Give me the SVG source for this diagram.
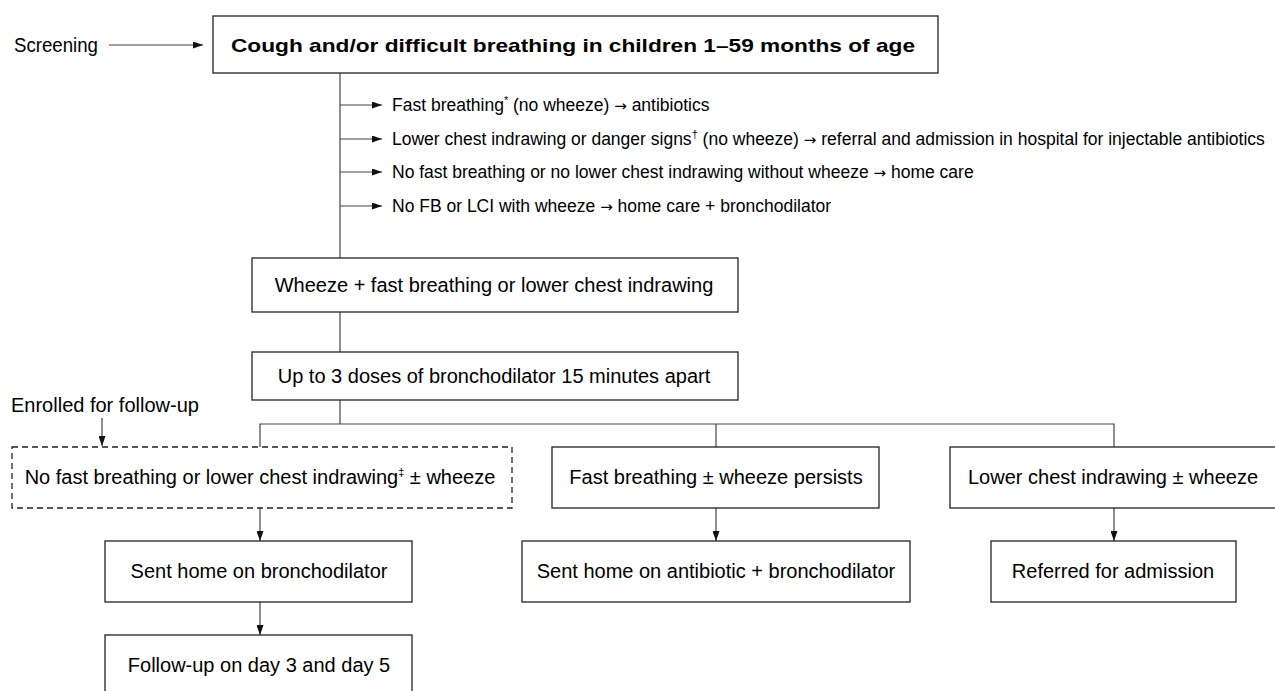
<svg xmlns="http://www.w3.org/2000/svg" width="1275" height="691" viewBox="0 0 1275 691">
<style>
  text { font-family: "Liberation Sans", "DejaVu Sans", sans-serif; fill: #000; }
  .box { fill: #fff; stroke: #222; stroke-width: 1.3; }
  .dash { fill: #fff; stroke: #222; stroke-width: 1.3; stroke-dasharray: 6 4; }
  .t { font-size: 20px; text-anchor: middle; }
  .l { font-size: 20px; }
  .b { font-size: 17.5px; }
  .ar { font-family: "DejaVu Sans", sans-serif; font-size: 15px; }
  .title { font-size: 19px; font-weight: bold; text-anchor: middle; }
  .conn line, .conn path { stroke: #444; stroke-width: 1.2; fill: none; }
  .sup { font-size: 11px; }
</style>
<defs>
  <marker id="ah" viewBox="0 0 10 7" refX="10" refY="3.5" markerWidth="10" markerHeight="7" markerUnits="userSpaceOnUse" orient="auto">
    <path d="M0,0 L10,3.5 L0,7 z" fill="#111"/>
  </marker>
</defs>

<g id="labels">
  <text class="l" x="14" y="52" textLength="84" lengthAdjust="spacingAndGlyphs">Screening</text>
  <text class="l" x="11" y="412">Enrolled for follow-up</text>
</g>

<g class="conn" id="connectors">
  <line x1="109" y1="45" x2="203" y2="45" marker-end="url(#ah)"/>
  <line x1="340" y1="73" x2="340" y2="258"/>
  <line x1="340" y1="105" x2="382" y2="105" marker-end="url(#ah)"/>
  <line x1="340" y1="139" x2="382" y2="139" marker-end="url(#ah)"/>
  <line x1="340" y1="172" x2="382" y2="172" marker-end="url(#ah)"/>
  <line x1="340" y1="206" x2="382" y2="206" marker-end="url(#ah)"/>
  <line x1="340" y1="312" x2="340" y2="352"/>
  <line x1="340" y1="400" x2="340" y2="424"/>
  <path d="M260,447 V424 H1114 V447"/>
  <line x1="716" y1="424" x2="716" y2="447"/>
  <line x1="102" y1="418" x2="102" y2="446" marker-end="url(#ah)"/>
  <line x1="260" y1="508" x2="260" y2="541" marker-end="url(#ah)"/>
  <line x1="716" y1="508" x2="716" y2="541" marker-end="url(#ah)"/>
  <line x1="1114" y1="508" x2="1114" y2="541" marker-end="url(#ah)"/>
  <line x1="260" y1="602" x2="260" y2="635" marker-end="url(#ah)"/>
</g>

<g id="n-top">
  <rect class="box" x="213" y="16" width="725" height="57"/>
  <text class="title" x="573" y="52" textLength="684" lengthAdjust="spacingAndGlyphs">Cough and/or difficult breathing in children 1–59 months of age</text>
</g>

<g id="branches">
  <text class="b" x="392" y="111">Fast breathing<tspan class="sup" dy="-7">*</tspan><tspan dy="7"> (no wheeze) </tspan><tspan class="ar">→</tspan> antibiotics</text>
  <text class="b" x="392" y="145">Lower chest indrawing or danger signs<tspan class="sup" dy="-7">†</tspan><tspan dy="7"> (no wheeze) </tspan><tspan class="ar">→</tspan> referral and admission in hospital for injectable antibiotics</text>
  <text class="b" x="392" y="178">No fast breathing or no lower chest indrawing without wheeze <tspan class="ar">→</tspan> home care</text>
  <text class="b" x="392" y="212">No FB or LCI with wheeze <tspan class="ar">→</tspan> home care + bronchodilator</text>
</g>

<g id="n-wheeze">
  <rect class="box" x="252" y="258" width="486" height="54"/>
  <text class="t" x="494" y="292">Wheeze + fast breathing or lower chest indrawing</text>
</g>

<g id="n-doses">
  <rect class="box" x="252" y="352" width="486" height="48"/>
  <text class="t" x="494" y="383">Up to 3 doses of bronchodilator 15 minutes apart</text>
</g>

<g id="n-nofast">
  <rect class="dash" x="12" y="447" width="500" height="61"/>
  <text class="t" x="260" y="484">No fast breathing or lower chest indrawing<tspan class="sup" dy="-8">‡</tspan><tspan dy="8"> ± wheeze</tspan></text>
</g>

<g id="n-fastpersist">
  <rect class="box" x="552" y="447" width="327" height="61"/>
  <text class="t" x="716" y="484">Fast breathing ± wheeze persists</text>
</g>

<g id="n-lci">
  <rect class="box" x="950" y="447" width="330" height="61"/>
  <text class="t" x="1113" y="484">Lower chest indrawing ± wheeze</text>
</g>

<g id="n-senthome">
  <rect class="box" x="105" y="541" width="307" height="61"/>
  <text class="t" x="259" y="578">Sent home on bronchodilator</text>
</g>

<g id="n-antibiotic">
  <rect class="box" x="522" y="541" width="388" height="61"/>
  <text class="t" x="716" y="578">Sent home on antibiotic + bronchodilator</text>
</g>

<g id="n-referred">
  <rect class="box" x="991" y="541" width="245" height="61"/>
  <text class="t" x="1113" y="578">Referred for admission</text>
</g>

<g id="n-followup">
  <rect class="box" x="105" y="635" width="307" height="62"/>
  <text class="t" x="259" y="672">Follow-up on day 3 and day 5</text>
</g>
</svg>
